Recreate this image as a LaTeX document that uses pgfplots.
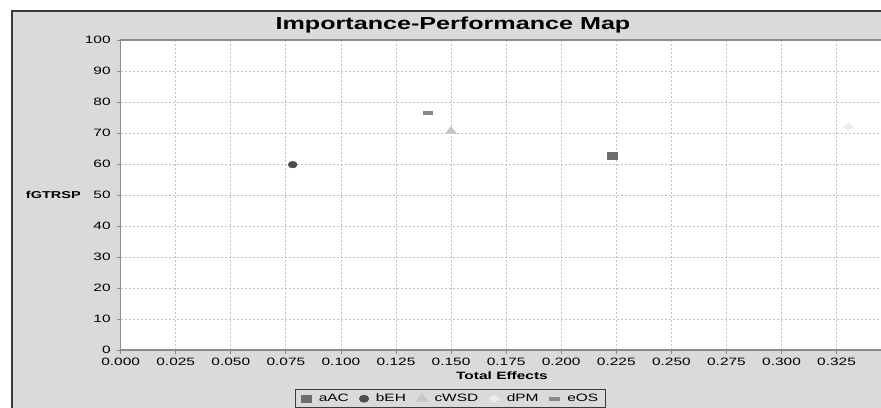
\documentclass[border=0pt]{standalone}
\usepackage{pgfplots}
\pgfplotsset{compat=1.18}
\usepackage{fontspec}
\setmainfont{Liberation Sans}[FakeStretch=1.45]
\definecolor{bggray}{HTML}{DADADA}
\definecolor{framegray}{HTML}{3A3A3A}
\definecolor{axisgray}{HTML}{8C8C8C}
\definecolor{gridgray}{HTML}{C2C2C2}
\definecolor{acgray}{HTML}{6E6E6E}
\definecolor{ehgray}{HTML}{4E4E4E}
\definecolor{wsdgray}{HTML}{C6C6C6}
\definecolor{pmgray}{HTML}{ECECEC}
\definecolor{osgray}{HTML}{8A8A8A}
\begin{document}
\begin{tikzpicture}
\clip (0,0) rectangle (660.75pt,305.25pt);
\fill[white] (0,0) rectangle (660.75pt,305.25pt);
\fill[bggray] (9pt,-5pt) rectangle (670pt,297pt);
\draw[framegray, line width=1pt] (9pt,-5pt) -- (9pt,297pt) -- (670pt,297pt);
\node[font=\bfseries\fontsize{13}{16}\selectfont] at (339.75pt,286.5pt) {Importance-Performance Map};
\begin{axis}[
  at={(90.5pt,42.75pt)}, anchor=south west,
  scale only axis, width=578.25pt, height=232.5pt,
  xmin=0, xmax=0.35, ymin=0, ymax=100,
  axis background/.style={fill=white},
  xtick={0,0.025,0.05,0.075,0.1,0.125,0.15,0.175,0.2,0.225,0.25,0.275,0.3,0.325},
  ytick={0,10,20,30,40,50,60,70,80,90,100},
  xticklabel style={yshift=0.5pt, /pgf/number format/.cd, fixed, fixed zerofill, precision=3},
  /pgf/number format/assume math mode=true,
  grid=major, grid style={dash pattern=on 1.5pt off 1.5pt, gridgray, line width=0.6pt},
  axis line style={axisgray, line width=0.8pt},
  tick align=outside, xtick pos=bottom, ytick pos=left,
  major tick length=3pt, tick style={axisgray, line width=0.6pt},
  ticklabel style={font=\fontsize{8}{9.5}\selectfont},
  yticklabel style={xshift=-1pt},
  xlabel={Total Effects},
  xlabel style={font=\bfseries\fontsize{8}{9.5}\selectfont, at={(axis description cs:0.4946,-0.0815)}, anchor=center},
  ylabel={fGTRSP},
  ylabel style={font=\bfseries\fontsize{7.5}{9}\selectfont, at={(axis description cs:-0.0873,0.5)}, anchor=center, rotate=-90},
  legend columns=5,
  legend image code/.code={\draw[#1, only marks] plot coordinates {(0pt,0pt)};},
  legend style={at={(axis description cs:0.2261,-0.1268)}, anchor=north west,
    draw=framegray, fill=bggray, line width=0.8pt,
    font=\fontsize{8}{9.5}\selectfont,
    inner xsep=4.5pt, inner ysep=2pt,
    nodes={inner sep=1pt},
    /tikz/every odd column/.append style={column sep=4.5pt},
    /tikz/every even column/.append style={column sep=7pt}},
]
\addplot[only marks, mark=square*, mark size=2.6pt, mark options={xscale=1.43, draw=acgray, fill=acgray}] coordinates {(0.2231,62.7)};
\addlegendentry{aAC}
\addplot[only marks, mark=*, mark size=2.5pt, mark options={xscale=1.35, draw=ehgray, fill=ehgray}] coordinates {(0.0781,59.8)};
\addlegendentry{bEH}
\addplot[only marks, mark=triangle*, mark size=3.6pt, mark options={xscale=1.27, draw=wsdgray, fill=wsdgray}] coordinates {(0.1500,70.6)};
\addlegendentry{cWSD}
\addplot[only marks, mark=diamond*, mark size=2.5pt, mark options={xscale=2.1, draw=pmgray, fill=pmgray}] coordinates {(0.3303,72.0)};
\addlegendentry{dPM}
\addplot[only marks, mark=-, mark size=4pt, mark options={line width=3pt, draw=osgray}] coordinates {(0.1395,76.4)};
\addlegendentry{eOS}
\end{axis}
\end{tikzpicture}
\end{document}
